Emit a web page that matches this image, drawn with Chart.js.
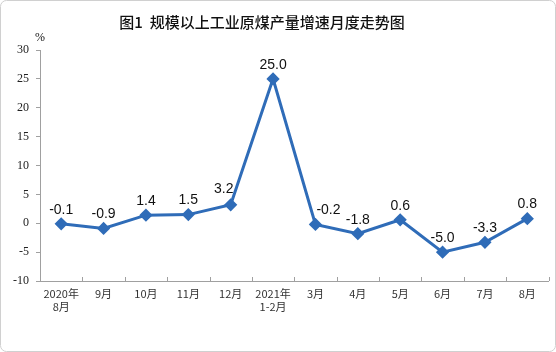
<!DOCTYPE html>
<html>
<head>
<meta charset="utf-8">
<script src="https://cdn.jsdelivr.net/npm/chart.js@4"></script>
<style>
  html, body { margin: 0; padding: 0; background: #fff; }
  #wrap { width: 556px; height: 352px; }
</style>
</head>
<body>
<div id="wrap"><canvas id="coalChart" width="556" height="352"></canvas></div>
<script>
const months = [["2020年", "8月"], "9月", "10月", "11月", "12月", ["2021年", "1-2月"], "3月", "4月", "5月", "6月", "7月", "8月"];
const growth = [-0.1, -0.9, 1.4, 1.5, 3.2, 25.0, -0.2, -1.8, 0.6, -5.0, -3.3, 0.8];
const yTicks = [-10, -5, 0, 5, 10, 15, 20, 25, 30];
const chartTitle = "图1  规模以上工业原煤产量增速月度走势图";

const lineBlue = "#2f6cb8";
// two labels are pushed aside from their point in the original
const labelShift = { 4: [-7, -2], 6: [13, 0] };

const decorations = {
	id: "decorations",
	afterDraw(chart) {
		const ctx = chart.ctx;
		const x = chart.scales.x;
		const area = chart.chartArea;
		ctx.save();

		// frame around the picture
		ctx.strokeStyle = "#d0d0d0";
		ctx.lineWidth = 1;
		ctx.beginPath();
		ctx.roundRect(0.5, 0.5, chart.width - 1, chart.height - 1, 6);
		ctx.stroke();

		// title
		ctx.fillStyle = "#111";
		ctx.font = "500 15px 'Noto Sans CJK SC'";
		ctx.textAlign = "center";
		ctx.textBaseline = "middle";
		ctx.fillText(chartTitle, 262, 22);

		// unit
		ctx.font = "12px 'Liberation Serif', serif";
		ctx.fillText("%", area.left, 38);

		// small tick marks between categories, pointing up
		ctx.strokeStyle = "#a0a0a0";
		ctx.beginPath();
		const step = x.getPixelForValue(1) - x.getPixelForValue(0);
		for (let i = 1; i <= months.length; i++) {
			const px = Math.round(x.getPixelForValue(i) - step / 2) + 0.5;
			ctx.moveTo(px, area.bottom);
			ctx.lineTo(px, area.bottom - 4);
		}
		ctx.stroke();

		// value labels
		ctx.fillStyle = "#111";
		ctx.font = "14px 'Liberation Sans', Arial, sans-serif";
		ctx.textBaseline = "bottom";
		chart.getDatasetMeta(0).data.forEach((pt, i) => {
			const [dx, dy] = labelShift[i] || [0, 0];
			ctx.fillText(growth[i].toFixed(1), pt.x + dx, pt.y - 7 + dy);
		});
		ctx.restore();
	}
};

new Chart(
	document.getElementById("coalChart"),
	{
		type: "line",
		data: {
			labels: months,
			datasets: [{
				data: growth,
				borderColor: lineBlue,
				backgroundColor: lineBlue,
				borderWidth: 3,
				pointStyle: "rectRot",
				pointRadius: 4.5,
				pointHoverRadius: 4.5,
				tension: 0,
			}],
		},
		options: {
			responsive: false,
			animation: false,
			layout: { padding: { top: 50, right: 6, left: 0, bottom: 0 } },
			plugins: {
				legend: { display: false },
				title: { display: false },
				tooltip: { enabled: false }
			},
			scales: {
				x: {
					offset: true,
					grid: { display: false, drawTicks: false },
					border: { color: "#a0a0a0", width: 1 },
					ticks: {
						color: "#333",
						font: { family: "Noto Sans CJK SC", size: 11 },
						padding: 6,
						maxRotation: 0,
						autoSkip: false
					},
					afterFit(scale) { scale.height = 71; }
				},
				y: {
					min: -10,
					max: 30,
					afterBuildTicks(scale) { scale.ticks = yTicks.map(v => ({ value: v })); },
					grid: { drawOnChartArea: false, drawTicks: true, tickLength: 4, color: "#a0a0a0" },
					border: { color: "#a0a0a0", width: 1 },
					ticks: {
						color: "#222",
						font: { family: "Liberation Serif, serif", size: 12 },
						padding: 7
					},
					afterFit(scale) { scale.width = 40; }
				}
			}
		},
		plugins: [decorations]
	}
)
</script>
</body>
</html>
